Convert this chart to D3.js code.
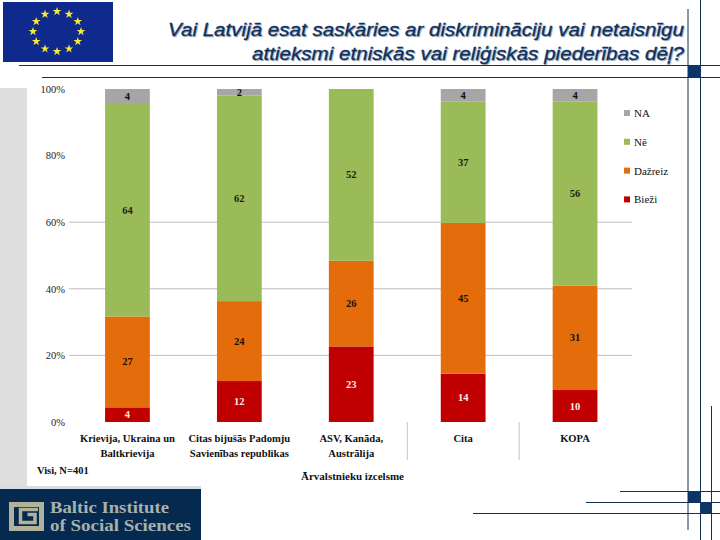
<!DOCTYPE html>
<html><head><meta charset="utf-8">
<script src="https://cdn.jsdelivr.net/npm/d3@7"></script>
<style>html,body{margin:0;padding:0;background:#fff}svg{display:block}</style></head>
<body><svg id="c" width="720" height="540"></svg>
<script>
const categories = [["Krievija, Ukraina un","Baltkrievija"],["Citas bijušās Padomju","Savienības republikas"],["ASV, Kanāda,","Austrālija"],["Cita"],["KOPA"]];
const seriesNames = ["Bieži","Dažreiz","Nē","NA"];
// printed labels
const biezi = [4,12,23,14,10];
const dazreiz = [27,24,26,45,31];
const ne = [64,62,52,37,56];
const na = [4,2,null,4,4];
// segment heights (percent)
const bieziHeight = [4.4,12.3,22.7,14.5,9.6];
const dazreizHeight = [27.3,24,25.7,45.3,31.3];
const neHeight = [63.8,61.7,51.6,36.5,55.4];
const naHeight = [4.5,2,0,3.7,3.7];
const seriesColors = ["#c00000","#e46c0a","#9bbb59","#a6a6a6"];
const labelColors = ["#fbeaea","#1c1005","#1c2410","#111"];
const gridTicks = [20,40,60];
const yTicks = [0,20,40,60,80,100];
const tickLabels = ["0%","20%","40%","60%","80%","100%"];
const separators = [3,4];
const titleLines = ["Vai Latvijā esat saskāries ar diskrimināciju vai netaisnīgu","attieksmi etniskās vai reliģiskās piederības dēļ?"];
const titleWidths = [516,432];
const logoLines = ["Baltic Institute","of Social Sciences"];
const logoWidths = [119,141];
const navy = "#0f3350";

const svg = d3.select("#c");
const serif = "'Liberation Serif','DejaVu Serif',serif";
const sans = "'Liberation Sans',Arial,sans-serif";
const rows = categories.map((c,i)=>({i,
  s:{"Bieži":bieziHeight[i],"Dažreiz":dazreizHeight[i],"Nē":neHeight[i],"NA":naHeight[i]},
  v:[biezi[i],dazreiz[i],ne[i],na[i]]}));
const stacked = d3.stack().keys(seriesNames).value((d,k)=>d.s[k])(rows);
const x = d3.scaleBand().domain(categories.map((c,i)=>i)).range([71.5,631]).paddingInner(0.6).paddingOuter(0.3);
const y = d3.scaleLinear().domain([0,100]).range([422,89]);

// side panel
svg.append("rect").attr("x",0).attr("y",88).attr("width",27).attr("height",398).attr("fill","#dedede");
svg.append("rect").attr("x",0).attr("y",486).attr("width",201).attr("height",3).attr("fill","#d5dde6");

// flag
svg.append("rect").attr("x",3).attr("y",2).attr("width",110).attr("height",60).attr("fill","#0f2a8c");
const stars = d3.range(12).map(i=>i*30);
const starPath = d3.symbol().type(d3.symbolStar).size(24);
svg.append("g").selectAll("path").data(stars).join("path").attr("d",starPath)
  .attr("transform",d=>`translate(${57+24*Math.sin(d*Math.PI/180)},${31.5-20*Math.cos(d*Math.PI/180)})`)
  .attr("fill","#f5e93c");

// title
[["#a9b8c8",1,1],["#10305c",0,0]].forEach(([col,dx,dy])=>{
  svg.append("g").selectAll("text").data(titleLines).join("text")
    .attr("x",684+dx).attr("y",(d,i)=>36+i*23.5+dy).attr("text-anchor","end")
    .attr("textLength",(d,i)=>titleWidths[i]).attr("lengthAdjust","spacingAndGlyphs")
    .attr("font-family",sans).attr("font-style","italic").attr("font-size",18.6).attr("fill",col)
    .attr("stroke",col).attr("stroke-width",0.35).text(d=>d);
});

// decorative lines
const hLines = [[19,720,65],[42,720,77],[620,720,491],[586,720,502],[473,720,513]];
const vLines = [[688,9,530],[700.5,0,540],[711.5,406,540]];
svg.append("g").selectAll("line").data(hLines).join("line")
  .attr("x1",d=>d[0]).attr("x2",d=>d[1]).attr("y1",d=>d[2]+.5).attr("y2",d=>d[2]+.5).attr("stroke",navy);
svg.append("g").selectAll("line").data(vLines).join("line")
  .attr("x1",d=>d[0]).attr("x2",d=>d[0]).attr("y1",d=>d[1]).attr("y2",d=>d[2]).attr("stroke",navy);
svg.append("g").selectAll("rect").data([[688,65,13,12],[688,491,12,11],[700,502,12,11]]).join("rect")
  .attr("x",d=>d[0]).attr("y",d=>d[1]).attr("width",d=>d[2]).attr("height",d=>d[3]).attr("fill","#0a3566");

// gridlines
svg.append("g").selectAll("line").data(gridTicks).join("line")
  .attr("x1",69).attr("x2",632).attr("y1",d=>y(d)).attr("y2",d=>y(d)).attr("stroke","#bdbdbd");

// separators under the axis
svg.append("g").selectAll("line").data(separators).join("line")
  .attr("x1",d=>x(d)-33.5).attr("x2",d=>x(d)-33.5).attr("y1",422).attr("y2",460).attr("stroke","#c4c4c4");

// y axis
const yAxis = d3.axisLeft(y).tickValues(yTicks).tickFormat((d,i)=>tickLabels[i]).tickSize(0).tickPadding(0);
const ax = svg.append("g").attr("transform","translate(65,0)").call(yAxis);
ax.select(".domain").remove();
ax.selectAll("text").attr("font-family",serif).attr("font-size",10.5).attr("fill","#222");

// bars
const gs = svg.append("g").selectAll("g").data(stacked).join("g").attr("fill",(d,i)=>seriesColors[i]);
gs.selectAll("rect").data(d=>d).join("rect")
  .attr("x",d=>x(d.data.i)).attr("width",x.bandwidth())
  .attr("y",d=>y(d[1])).attr("height",d=>y(d[0])-y(d[1]));
gs.each(function(s,k){
  d3.select(this).selectAll("text").data(s.filter(d=>d.data.v[k]!==null)).join("text")
    .attr("x",d=>x(d.data.i)+x.bandwidth()/2).attr("y",d=>y((d[0]+d[1])/2)+3.5)
    .attr("text-anchor","middle").attr("font-family",serif).attr("font-weight","bold").attr("font-size",10.5)
    .attr("fill",labelColors[k]).text(d=>d.data.v[k]);
});

// category labels
const cg = svg.append("g").selectAll("g").data(categories).join("g");
cg.selectAll("text").data((d,i)=>d.map((t,j)=>({t,j,i}))).join("text")
  .attr("x",d=>x(d.i)+x.bandwidth()/2).attr("y",d=>442+d.j*14.5).attr("text-anchor","middle")
  .attr("font-family",serif).attr("font-weight","bold").attr("font-size",10.6).attr("fill","#111").text(d=>d.t);

// legend
const lg = svg.append("g").selectAll("g").data(seriesNames.slice().reverse()).join("g")
  .attr("transform",(d,i)=>`translate(624,${113+i*28.8})`);
lg.append("rect").attr("y",-3).attr("width",6).attr("height",6).attr("fill",(d,i)=>seriesColors[3-i]);
lg.append("text").attr("x",10).attr("y",4).attr("font-family",serif).attr("font-size",11).attr("fill","#111").text(d=>d);

// notes
svg.append("text").attr("x",37).attr("y",474).attr("font-family",serif).attr("font-weight","bold").attr("font-size",10.5).attr("fill","#111").text("Visi, N=401");
svg.append("text").attr("x",301).attr("y",479.5).attr("font-family",serif).attr("font-weight","bold").attr("font-size",11).attr("fill","#111").text("Ārvalstnieku izcelsme");

// logo
svg.append("rect").attr("x",0).attr("y",489).attr("width",201).attr("height",51).attr("fill","#06294f");
svg.append("path").attr("fill","none").attr("stroke","#b1b29a").attr("stroke-width",5)
  .attr("d","M11.5,504.5H41.5V528.5H11.5Z");
svg.append("path").attr("fill","none").attr("stroke","#b1b29a").attr("stroke-width",3.5)
  .attr("d","M38,509.5H20.5V522.5H35V514.5H27.5");
svg.append("g").selectAll("text").data(logoLines).join("text")
  .attr("x",50).attr("y",(d,i)=>512.5+i*18.5)
  .attr("textLength",(d,i)=>logoWidths[i]).attr("lengthAdjust","spacingAndGlyphs")
  .attr("font-family",serif).attr("font-weight","bold").attr("font-size",15.8)
  .attr("fill","#a7b1ae").text(d=>d);
</script></body></html>
